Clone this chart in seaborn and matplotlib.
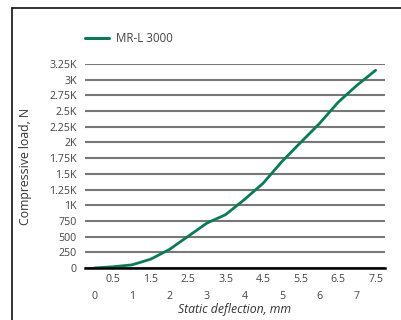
import pandas as pd
import seaborn as sns
import matplotlib.pyplot as plt
from matplotlib.lines import Line2D
from matplotlib.ticker import FixedLocator

deflection = [0, 0.5, 1, 1.5, 2, 2.5, 3, 3.5, 4, 4.5, 5, 5.5, 6, 6.5, 7, 7.5]
load = [0, 20, 50, 140, 295, 505, 715, 850, 1090, 1350, 1695, 2000, 2300, 2640, 2910, 3150]
series_name = "MR-L 3000"
y_ticks = [0, 250, 500, 750, 1000, 1250, 1500, 1750, 2000, 2250, 2500, 2750, 3000, 3250]
y_tick_labels = ["0", "250", "500", "750", "1K", "1.25K", "1.5K", "1.75K", "2K",
                 "2.25K", "2.5K", "2.75K", "3K", "3.25K"]

sns.set_theme(style="white")
plt.rcParams["font.family"] = ["Open Sans", "DejaVu Sans"]

GREEN = "#0b7a5a"
GRID = "#777777"
TXT = "#444444"
TICK_FS = 7.7
LABEL_FS = 8.8

df = pd.DataFrame({"deflection": deflection, "load": load, "series": series_name})

fig = plt.figure(figsize=(4.01, 3.2), dpi=100)
ax = fig.add_axes([85 / 401, 1 - 268 / 320, 300 / 401, 204 / 320])

sns.lineplot(data=df, x="deflection", y="load", hue="series", palette=[GREEN],
             linewidth=2.0, ax=ax, legend=True, zorder=3)

ax.set_xlim(-0.25, 7.75)
ax.set_ylim(0, 3250)

# two-row x labels: halves on top, whole numbers below
xlabels = []
for v in deflection:
    if float(v).is_integer():
        xlabels.append("\n" + str(int(v)))
    else:
        xlabels.append(str(v))
ax.xaxis.set_major_locator(FixedLocator(deflection))
ax.set_xticklabels(xlabels, fontsize=TICK_FS, color=TXT, linespacing=1.75)
ax.yaxis.set_major_locator(FixedLocator(y_ticks))
ax.set_yticklabels(y_tick_labels, fontsize=TICK_FS, color=TXT)
ax.tick_params(axis="both", length=0)
ax.tick_params(axis="y", pad=6)
ax.tick_params(axis="x", pad=4)

ax.yaxis.grid(True, color=GRID, linewidth=1.5)
ax.xaxis.grid(False)
for s in ["top", "right", "left"]:
    ax.spines[s].set_visible(False)
ax.spines["bottom"].set_color("black")
ax.spines["bottom"].set_linewidth(1.8)
ax.spines["bottom"].set_zorder(4)

ax.set_ylabel("Compressive load, N", fontsize=LABEL_FS, color="#333333")
ax.yaxis.set_label_coords(-0.177, 0.5)
ax.set_xlabel("Static deflection, mm", fontsize=LABEL_FS, color="#333333", style="italic")
ax.xaxis.set_label_coords(0.5, -0.17)

ax.get_legend().remove()
leg = fig.legend(handles=[Line2D([], [], color=GREEN, linewidth=2.2)], labels=[series_name],
                 loc="center left", bbox_to_anchor=(85 / 401, 1 - 39 / 320),
                 frameon=False, fontsize=8.3, handlelength=2.1, handletextpad=0.6,
                 borderpad=0, borderaxespad=0)
for t in leg.get_texts():
    t.set_color(TXT)

# frame around the picture (left and top only)
fig.add_artist(Line2D([12 / 401, 12 / 401], [0, 1 - 7.5 / 320], color="#111111",
                      linewidth=1.2, transform=fig.transFigure))
fig.add_artist(Line2D([12 / 401, 1], [1 - 7.5 / 320, 1 - 7.5 / 320], color="#111111",
                      linewidth=1.2, transform=fig.transFigure))

fig.savefig("out.png", dpi=100)
